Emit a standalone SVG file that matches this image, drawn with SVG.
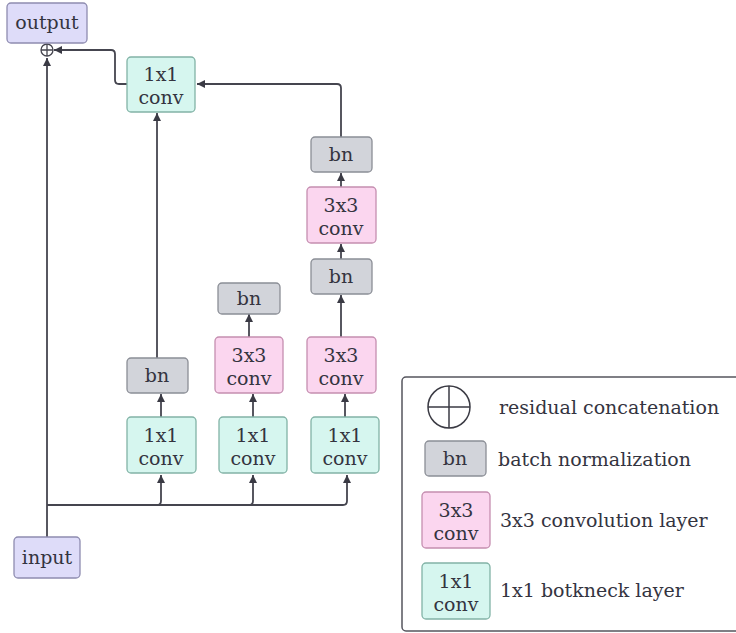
<svg xmlns="http://www.w3.org/2000/svg" width="736" height="633" viewBox="0 0 736 633">
  <style>
    .t { font-family: "DejaVu Serif", "Liberation Serif", serif; font-size: 19px; fill: #34343f; text-anchor: middle; }
    .lt { font-family: "DejaVu Serif", "Liberation Serif", serif; font-size: 19px; fill: #34343f; }
    .io { fill: #dedcf9; stroke: #8e8cb0; stroke-width: 1.3; }
    .c1 { fill: #d6f6ef; stroke: #82b3a6; stroke-width: 1.3; }
    .c3 { fill: #fbd6ef; stroke: #c58eb0; stroke-width: 1.3; }
    .bn { fill: #d2d4da; stroke: #8b8e96; stroke-width: 1.3; }
    .edge { fill: none; stroke: #45454f; stroke-width: 1.8; }
  </style>
  <defs>
    <marker id="arr" viewBox="0 0 10 10" refX="10" refY="5" markerWidth="8" markerHeight="8" markerUnits="userSpaceOnUse" orient="auto">
      <path d="M0,0 L10,5 L0,10 z" fill="#3a3a44"/>
    </marker>
  </defs>

  <!-- connectors -->
  <g id="edges">
    <path class="edge" d="M47,537 V58" marker-end="url(#arr)"/>
    <path class="edge" d="M47,505 H343 Q347,505 347,501 V475" marker-end="url(#arr)"/>
    <path class="edge" d="M157,505 Q161,505 161,501 V475" marker-end="url(#arr)"/>
    <path class="edge" d="M249,505 Q253,505 253,501 V475" marker-end="url(#arr)"/>
    <path class="edge" d="M161,417 V394" marker-end="url(#arr)"/>
    <path class="edge" d="M157,358 V113" marker-end="url(#arr)"/>
    <path class="edge" d="M253,417 V394" marker-end="url(#arr)"/>
    <path class="edge" d="M249,337 V314" marker-end="url(#arr)"/>
    <path class="edge" d="M345,417 V394" marker-end="url(#arr)"/>
    <path class="edge" d="M341,337 V295" marker-end="url(#arr)"/>
    <path class="edge" d="M341,259 V244" marker-end="url(#arr)"/>
    <path class="edge" d="M341,187 V173" marker-end="url(#arr)"/>
    <path class="edge" d="M341,137 V88 Q341,84 337,84 H197" marker-end="url(#arr)"/>
    <path class="edge" d="M127,84 H119 Q115,84 115,80 V54 Q115,50 111,50 H54" marker-end="url(#arr)"/>
  </g>

  <!-- residual join -->
  <g id="join">
    <circle cx="47" cy="50" r="6" fill="#fff" stroke="#45454f" stroke-width="1.3"/>
    <path d="M41,50 H53 M47,44 V56" stroke="#45454f" stroke-width="1.3"/>
  </g>

  <g id="output">
    <rect class="io" x="7" y="3" width="80" height="40" rx="4"/>
    <text class="t" x="47" y="29">output</text>
  </g>
  <g id="input">
    <rect class="io" x="14" y="537" width="66" height="41" rx="4"/>
    <text class="t" x="47" y="564">input</text>
  </g>

  <g id="conv1x1_top">
    <rect class="c1" x="127" y="57" width="68" height="55" rx="4"/>
    <text class="t" x="161" y="81">1x1</text>
    <text class="t" x="161" y="104">conv</text>
  </g>

  <g id="conv1x1_a">
    <rect class="c1" x="127" y="417" width="69" height="56" rx="4"/>
    <text class="t" x="161" y="442">1x1</text>
    <text class="t" x="161" y="465">conv</text>
  </g>
  <g id="bn_a">
    <rect class="bn" x="127" y="358" width="61" height="35" rx="4"/>
    <text class="t" x="157" y="382">bn</text>
  </g>

  <g id="conv1x1_b">
    <rect class="c1" x="219" y="417" width="68" height="56" rx="4"/>
    <text class="t" x="253" y="442">1x1</text>
    <text class="t" x="253" y="465">conv</text>
  </g>
  <g id="conv3x3_b">
    <rect class="c3" x="215" y="337" width="68" height="56" rx="4"/>
    <text class="t" x="249" y="362">3x3</text>
    <text class="t" x="249" y="385">conv</text>
  </g>
  <g id="bn_b">
    <rect class="bn" x="218" y="283" width="62" height="31" rx="4"/>
    <text class="t" x="249" y="305">bn</text>
  </g>

  <g id="conv1x1_c">
    <rect class="c1" x="311" y="417" width="68" height="56" rx="4"/>
    <text class="t" x="345" y="442">1x1</text>
    <text class="t" x="345" y="465">conv</text>
  </g>
  <g id="conv3x3_c1">
    <rect class="c3" x="307" y="337" width="69" height="56" rx="4"/>
    <text class="t" x="341" y="362">3x3</text>
    <text class="t" x="341" y="385">conv</text>
  </g>
  <g id="bn_c1">
    <rect class="bn" x="311" y="259" width="61" height="35" rx="4"/>
    <text class="t" x="341" y="283">bn</text>
  </g>
  <g id="conv3x3_c2">
    <rect class="c3" x="307" y="187" width="69" height="56" rx="4"/>
    <text class="t" x="341" y="212">3x3</text>
    <text class="t" x="341" y="235">conv</text>
  </g>
  <g id="bn_c2">
    <rect class="bn" x="311" y="137" width="61" height="35" rx="4"/>
    <text class="t" x="341" y="161">bn</text>
  </g>

  <!-- legend -->
  <g id="legend">
    <rect x="402" y="377" width="340" height="254" rx="4" fill="#fff" stroke="#55555e" stroke-width="1.5"/>
    <circle cx="449" cy="407" r="21" fill="none" stroke="#3b3b44" stroke-width="1.5"/>
    <path d="M428,407 H470 M449,386 V428" stroke="#3b3b44" stroke-width="1.5"/>
    <text class="lt" x="499" y="414">residual concatenation</text>

    <rect class="bn" x="425" y="441" width="61" height="35" rx="4"/>
    <text class="t" x="455" y="465">bn</text>
    <text class="lt" x="498" y="466">batch normalization</text>

    <rect class="c3" x="422" y="492" width="68" height="56" rx="4"/>
    <text class="t" x="456" y="517">3x3</text>
    <text class="t" x="456" y="540">conv</text>
    <text class="lt" x="500" y="527">3x3 convolution layer</text>

    <rect class="c1" x="422" y="563" width="68" height="56" rx="4"/>
    <text class="t" x="456" y="588">1x1</text>
    <text class="t" x="456" y="611">conv</text>
    <text class="lt" x="500" y="597">1x1 botkneck layer</text>
  </g>
</svg>
